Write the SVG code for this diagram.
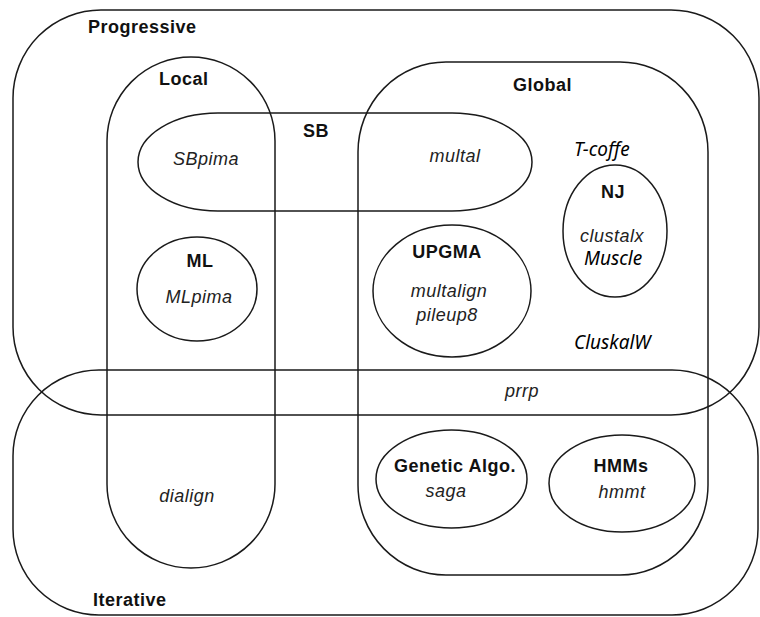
<svg xmlns="http://www.w3.org/2000/svg" width="760" height="617" viewBox="0 0 760 617">
<style>
.s{fill:none;stroke:#1a1a1a;stroke-width:1.5}
.b{font-family:"Liberation Sans",Arial,sans-serif;font-weight:bold;font-size:18px;fill:#111;letter-spacing:0.5px}
.i{font-family:"Liberation Sans",Arial,sans-serif;font-style:italic;font-size:18px;fill:#222;letter-spacing:0.5px}
.c{font-family:"Noto Sans","Open Sans",sans-serif;font-style:italic;font-size:19px;fill:#000}
.m{text-anchor:middle}
</style>
<rect width="760" height="617" fill="#fff"/>
<g id="progressive">
<rect class="s" x="13" y="10" width="746" height="405" rx="88" ry="88"/>
<text class="b" x="88" y="33">Progressive</text>
</g>
<g id="iterative">
<rect class="s" x="13" y="370" width="745" height="245" rx="86" ry="86"/>
<text class="b" x="93" y="606">Iterative</text>
</g>
<g id="local">
<rect class="s" x="107" y="57" width="168" height="511" rx="84" ry="84"/>
<text class="b" x="159" y="85">Local</text>
</g>
<g id="global">
<rect class="s" x="358" y="62" width="350" height="513" rx="88" ry="90"/>
<text class="b" x="513" y="91">Global</text>
</g>
<g id="sb">
<rect class="s" x="138" y="113" width="394" height="98" rx="80" ry="49"/>
<text class="b" x="303" y="137">SB</text>
<text class="i m" x="206" y="165">SBpima</text>
<text class="i m" x="455" y="162">multal</text>
</g>
<g id="ml">
<ellipse class="s" cx="197" cy="289" rx="60" ry="52"/>
<text class="b m" x="200" y="267">ML</text>
<text class="i m" x="199" y="303">MLpima</text>
</g>
<g id="upgma">
<ellipse class="s" cx="452" cy="291" rx="79" ry="66"/>
<text class="b m" x="447" y="258">UPGMA</text>
<text class="i m" x="449" y="297">multalign</text>
<text class="i m" x="447" y="321">pileup8</text>
</g>
<g id="nj">
<ellipse class="s" cx="615" cy="231" rx="52" ry="66"/>
<text class="b m" x="613" y="198">NJ</text>
<text class="i m" x="612" y="242">clustalx</text>
<text class="c" x="584" y="265">Muscle</text>
</g>
<g id="tcoffe">
<text class="c" x="574" y="156">T-coffe</text>
</g>
<g id="cluskalw">
<text class="c" x="574" y="349">CluskalW</text>
</g>
<g id="prrp">
<text class="i m" x="522" y="397">prrp</text>
</g>
<g id="dialign">
<text class="i m" x="187" y="502">dialign</text>
</g>
<g id="genetic">
<ellipse class="s" cx="451.5" cy="479" rx="75.5" ry="49"/>
<text class="b m" x="455" y="472">Genetic Algo.</text>
<text class="i m" x="446" y="497">saga</text>
</g>
<g id="hmms">
<ellipse class="s" cx="622" cy="483.5" rx="73" ry="48.5"/>
<text class="b m" x="621" y="472">HMMs</text>
<text class="i m" x="622" y="498">hmmt</text>
</g>
<g id="connectors"></g>
</svg>
